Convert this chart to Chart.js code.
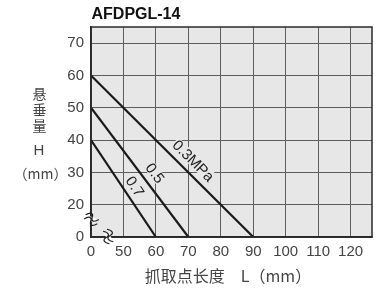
<!DOCTYPE html>
<html lang="zh">
<head>
<meta charset="UTF-8">
<title>AFDPGL-14</title>
<script src="https://cdn.jsdelivr.net/npm/chart.js"></script>
<style>
  html, body { margin: 0; padding: 0; background: #fff; }
  #wrap { width: 375px; height: 289px; }
</style>
</head>
<body>
<div id="wrap"><canvas id="chart"></canvas></div>
<script>
const chartTitle = 'AFDPGL-14';
const xTitle = '抓取点长度　L（mm）';
const yTitleChars = ['悬', '垂', '量'];
// broken axes: 0 then 50..120 on x, 0 then 20..70 on y
const xTickValues = [0, 50, 60, 70, 80, 90, 100, 110, 120];
const yTickValues = [0, 20, 30, 40, 50, 60, 70];
const pressures = ['0.3MPa', '0.5', '0.7'];
const lengthL = [[0, 90], [0, 70], [0, 60]];
const sagH = [[60, 0], [50, 0], [40, 0]];

const PLOT_BG = '#e7e7e7';
const TXT = '#444';

// value -> position on the broken axis (one step per tick)
function toAxis(v, ticks) {
  for (let i = 0; i < ticks.length - 1; i++) {
    if (v <= ticks[i + 1]) return i + (v - ticks[i]) / (ticks[i + 1] - ticks[i]);
  }
  const n = ticks.length - 1;
  return n + (v - ticks[n]) / (ticks[n] - ticks[n - 1]);
}

const datasets = pressures.map((p, i) => ({
  label: p,
  data: lengthL[i].map((L, j) => ({ x: toAxis(L, xTickValues), y: toAxis(sagH[i][j], yTickValues) })),
  borderColor: '#1a1a1a',
  borderWidth: 2.2,
  pointRadius: 0,
  fill: false
}));

// where the pressure labels sit along each line
const labelPos = [{ t: 0.58, off: 12 }, { t: 0.56, off: 12 }, { t: 0.54, off: 11 }];

function drawBreak(ctx, cx, cy, angle) {
  ctx.save();
  ctx.translate(cx, cy);
  ctx.rotate(angle);
  const wave = (y0) => {
    ctx.moveTo(-7, y0);
    ctx.bezierCurveTo(-3.5, y0 - 4.5, 0, y0 - 4.5, 0, y0);
    ctx.bezierCurveTo(0, y0 + 4.5, 3.5, y0 + 4.5, 7, y0);
  };
  ctx.fillStyle = '#fff';
  ctx.fillRect(-4.5, -2.2, 9, 4.4);
  ctx.beginPath();
  ctx.strokeStyle = '#222';
  ctx.lineWidth = 1.2;
  wave(-2.2);
  wave(2.2);
  ctx.stroke();
  ctx.restore();
}

const decor = {
  id: 'decor',
  beforeDraw(chart) {
    const { ctx, chartArea: a } = chart;
    ctx.save();
    ctx.fillStyle = PLOT_BG;
    ctx.fillRect(a.left, a.top, a.right - a.left, a.bottom - a.top);
    ctx.restore();
  },
  afterDatasetsDraw(chart) {
    const { ctx, chartArea: a, scales } = chart;
    ctx.save();
    ctx.strokeStyle = '#2a2a2a';
    ctx.lineWidth = 1.5;
    ctx.strokeRect(a.left, a.top, a.right - a.left, a.bottom - a.top);

    // pressure labels along the lines
    ctx.font = '15px "Liberation Sans", Arial, sans-serif';
    ctx.textAlign = 'center';
    ctx.textBaseline = 'middle';
    chart.data.datasets.forEach((ds, i) => {
      const p0 = { x: scales.x.getPixelForValue(ds.data[0].x), y: scales.y.getPixelForValue(ds.data[0].y) };
      const p1 = { x: scales.x.getPixelForValue(ds.data[1].x), y: scales.y.getPixelForValue(ds.data[1].y) };
      const dx = p1.x - p0.x, dy = p1.y - p0.y, len = Math.hypot(dx, dy);
      const { t, off } = labelPos[i];
      const cx = p0.x + dx * t + dy / len * off;
      const cy = p0.y + dy * t - dx / len * off;
      ctx.save();
      ctx.translate(cx, cy);
      ctx.rotate(Math.atan2(dy, dx));
      const w = ctx.measureText(ds.label).width;
      ctx.fillStyle = PLOT_BG;
      ctx.fillRect(-w / 2 - 1, -6, w + 2, 12);
      ctx.fillStyle = '#222';
      ctx.fillText(ds.label, 0, 1);
      ctx.restore();
    });

    // axis break marks
    drawBreak(ctx, a.left + 0.5, scales.y.getPixelForValue(0.55), 0.35);
    drawBreak(ctx, scales.x.getPixelForValue(0.53), a.bottom - 0.5, 1.1);

    // title
    ctx.fillStyle = '#111';
    ctx.textAlign = 'left';
    ctx.textBaseline = 'alphabetic';
    ctx.font = 'bold 16px "Liberation Sans", Arial, sans-serif';
    ctx.fillText(chartTitle, a.left + 0.5, a.top - 8);

    // y title, stacked
    ctx.fillStyle = TXT;
    ctx.textAlign = 'center';
    ctx.textBaseline = 'middle';
    ctx.font = '14px "Noto Sans CJK SC", sans-serif';
    yTitleChars.forEach((c, i) => ctx.fillText(c, 39.5, 94 + i * 16));
    ctx.font = '15px "Liberation Sans", Arial, sans-serif';
    ctx.fillText('H', 39, 151);
    ctx.font = '14px "Noto Sans CJK SC", sans-serif';
    ctx.fillText('（mm）', 40.5, scales.y.getPixelForValue(2) + 1);

    // x title
    ctx.font = '16px "Noto Sans CJK SC", sans-serif';
    ctx.fillText(xTitle, 228, 276);
    ctx.restore();
  }
};

const tickFont = { family: '"Liberation Sans", Arial, sans-serif', size: 15 };

new Chart(document.getElementById('chart'), {
  type: 'line',
  data: { datasets },
  options: {
    responsive: true,
    maintainAspectRatio: false,
    animation: false,
    layout: { padding: { top: 27, right: 3, left: 0, bottom: 0 } },
    plugins: { legend: { display: false }, tooltip: { enabled: false } },
    scales: {
      x: {
        type: 'linear',
        min: 0,
        max: 8.66,
        afterBuildTicks: s => { s.ticks = xTickValues.map((_, i) => ({ value: i })); },
        afterFit: s => { s.height = 52; },
        ticks: {
          callback: v => String(xTickValues[v]),
          font: tickFont, color: TXT, padding: 6, maxRotation: 0, autoSkip: false
        },
        grid: { color: '#5e5e5e', lineWidth: 1, drawTicks: false },
        border: { color: '#2a2a2a', width: 1.5 }
      },
      y: {
        type: 'linear',
        min: 0,
        max: 6.5,
        afterBuildTicks: s => { s.ticks = yTickValues.map((_, i) => ({ value: i })); },
        afterFit: s => { s.width = 91; },
        ticks: {
          callback: v => String(yTickValues[v]),
          font: tickFont, color: TXT, padding: 7, autoSkip: false
        },
        grid: { color: '#5e5e5e', lineWidth: 1, drawTicks: false },
        border: { color: '#2a2a2a', width: 1.5 }
      }
    }
  },
  plugins: [decor]
});
</script>
</body>
</html>
